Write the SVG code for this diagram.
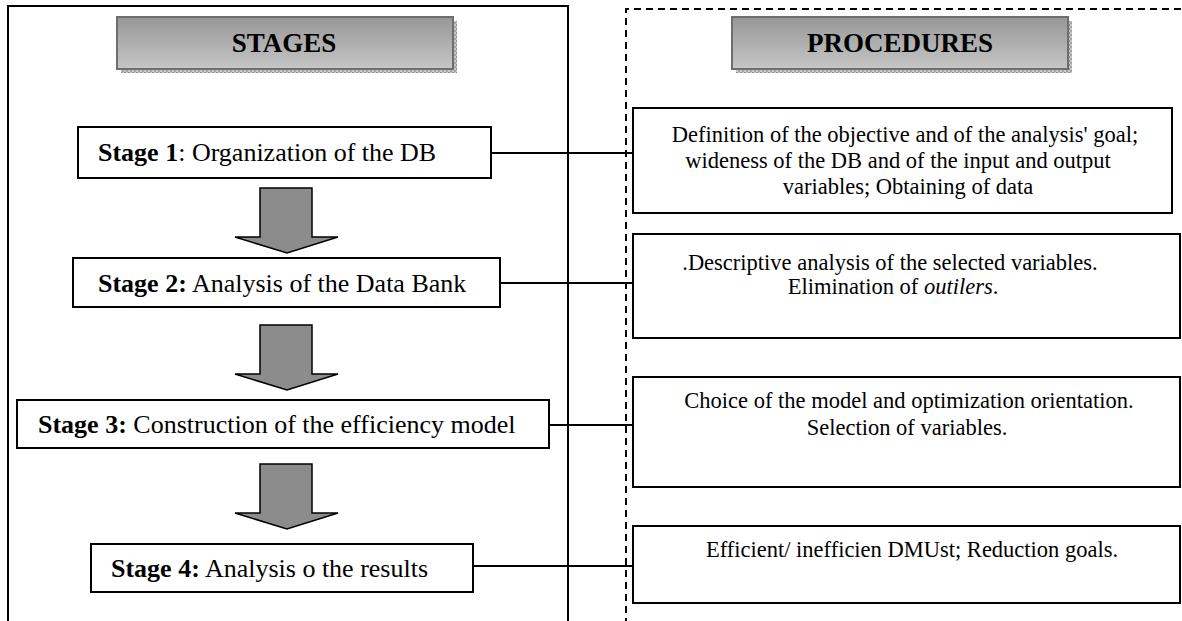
<svg xmlns="http://www.w3.org/2000/svg" width="1182" height="621" viewBox="0 0 1182 621">
  <defs>
    <linearGradient id="hdrFill" x1="0" y1="0" x2="0" y2="1">
      <stop offset="0" stop-color="#979797"/>
      <stop offset="1" stop-color="#c6c6c6"/>
    </linearGradient>
    <pattern id="grain" width="4" height="4" patternUnits="userSpaceOnUse">
      <rect width="4" height="4" fill="#c8c8c8"/>
      <rect width="2" height="2" fill="#8e8e8e"/>
      <rect x="2" y="2" width="2" height="2" fill="#a4a4a4"/>
    </pattern>
    <path id="downArrow" d="M0 0 H52 V49 H78 L27 65 L-25 49 H0 Z"/>
  </defs>
  <style>
    .frame { fill: none; stroke: #000; stroke-width: 2; }
    .dash { fill: none; stroke: #000; stroke-width: 2; stroke-dasharray: 7 5; }
    .box { fill: #fff; stroke: #000; stroke-width: 2; }
    .hdr { fill: url(#hdrFill); stroke: #6e6e6e; stroke-width: 2; }
    .shadow { fill: url(#grain); }
    .arrow { fill: #8c8c8c; stroke: #000; stroke-width: 1.5; stroke-linejoin: miter; }
    .link { stroke: #000; stroke-width: 2; fill: none; }
    .title { font-family: "Liberation Serif", "Times New Roman", serif; font-weight: bold; font-size: 27px; fill: #000; text-anchor: middle; }
    .stage { font-family: "Liberation Serif", "Times New Roman", serif; font-size: 26px; fill: #000; }
    .proc { font-family: "Liberation Serif", "Times New Roman", serif; font-size: 22.5px; fill: #000; text-anchor: middle; }
    .b { font-weight: bold; }
  </style>

  <rect width="1182" height="621" fill="#fff"/>

  <!-- column frames -->
  <g id="stages-column">
    <path class="frame" d="M8 625 V6 H568 V625"/>
  </g>
  <g id="procedures-column">
    <path class="dash" d="M626 625 V9 H1182"/>
  </g>

  <!-- column headers -->
  <g id="header-stages">
    <rect class="shadow" x="121" y="21" width="336" height="52"/>
    <rect class="hdr" x="117" y="17" width="336" height="52"/>
    <text class="title" x="284" y="52">STAGES</text>
  </g>
  <g id="header-procedures">
    <rect class="shadow" x="736" y="21" width="336" height="52"/>
    <rect class="hdr" x="732" y="17" width="336" height="52"/>
    <text class="title" x="900" y="52">PROCEDURES</text>
  </g>

  <!-- links from each stage to its procedure box -->
  <g id="connectors">
    <line class="link" x1="491" y1="153" x2="633" y2="153"/>
    <line class="link" x1="500" y1="283" x2="633" y2="283"/>
    <line class="link" x1="549" y1="425" x2="633" y2="425"/>
    <line class="link" x1="473" y1="566" x2="633" y2="566"/>
  </g>

  <!-- flow arrows between stages -->
  <g id="flow-arrows">
    <use href="#downArrow" class="arrow" x="260" y="188"/>
    <use href="#downArrow" class="arrow" x="260" y="325"/>
    <use href="#downArrow" class="arrow" x="260" y="464"/>
  </g>

  <!-- stages -->
  <g id="stage-1">
    <rect class="box" x="78" y="127" width="413" height="51"/>
    <text class="stage" x="98" y="161"><tspan class="b">Stage 1</tspan>: Organization of the DB</text>
  </g>
  <g id="stage-2">
    <rect class="box" x="73" y="258" width="427" height="49"/>
    <text class="stage" x="98" y="292"><tspan class="b">Stage 2:</tspan> Analysis of the Data Bank</text>
  </g>
  <g id="stage-3">
    <rect class="box" x="17" y="400" width="532" height="48"/>
    <text class="stage" x="38" y="433"><tspan class="b">Stage 3:</tspan> Construction of the efficiency model</text>
  </g>
  <g id="stage-4">
    <rect class="box" x="91" y="544" width="382" height="48"/>
    <text class="stage" x="111" y="577"><tspan class="b">Stage 4:</tspan> Analysis o the results</text>
  </g>

  <!-- procedures -->
  <g id="procedure-1">
    <rect class="box" x="633" y="108" width="539" height="105"/>
    <text class="proc" x="905" y="142">Definition of the objective and of the analysis' goal;</text>
    <text class="proc" x="898" y="168">wideness of the DB and of the input and output</text>
    <text class="proc" x="908" y="194">variables; Obtaining of data</text>
  </g>
  <g id="procedure-2">
    <rect class="box" x="633" y="234" width="547" height="104"/>
    <text class="proc" x="890" y="270">.Descriptive analysis of the selected variables.</text>
    <text class="proc" x="893" y="294">Elimination of <tspan font-style="italic">outilers</tspan>.</text>
  </g>
  <g id="procedure-3">
    <rect class="box" x="633" y="377" width="547" height="110"/>
    <text class="proc" x="909" y="408">Choice of the model and optimization orientation.</text>
    <text class="proc" x="907" y="435">Selection of variables.</text>
  </g>
  <g id="procedure-4">
    <rect class="box" x="633" y="526" width="547" height="77"/>
    <text class="proc" x="912" y="557">Efficient/ inefficien DMUst; Reduction goals.</text>
  </g>
</svg>
